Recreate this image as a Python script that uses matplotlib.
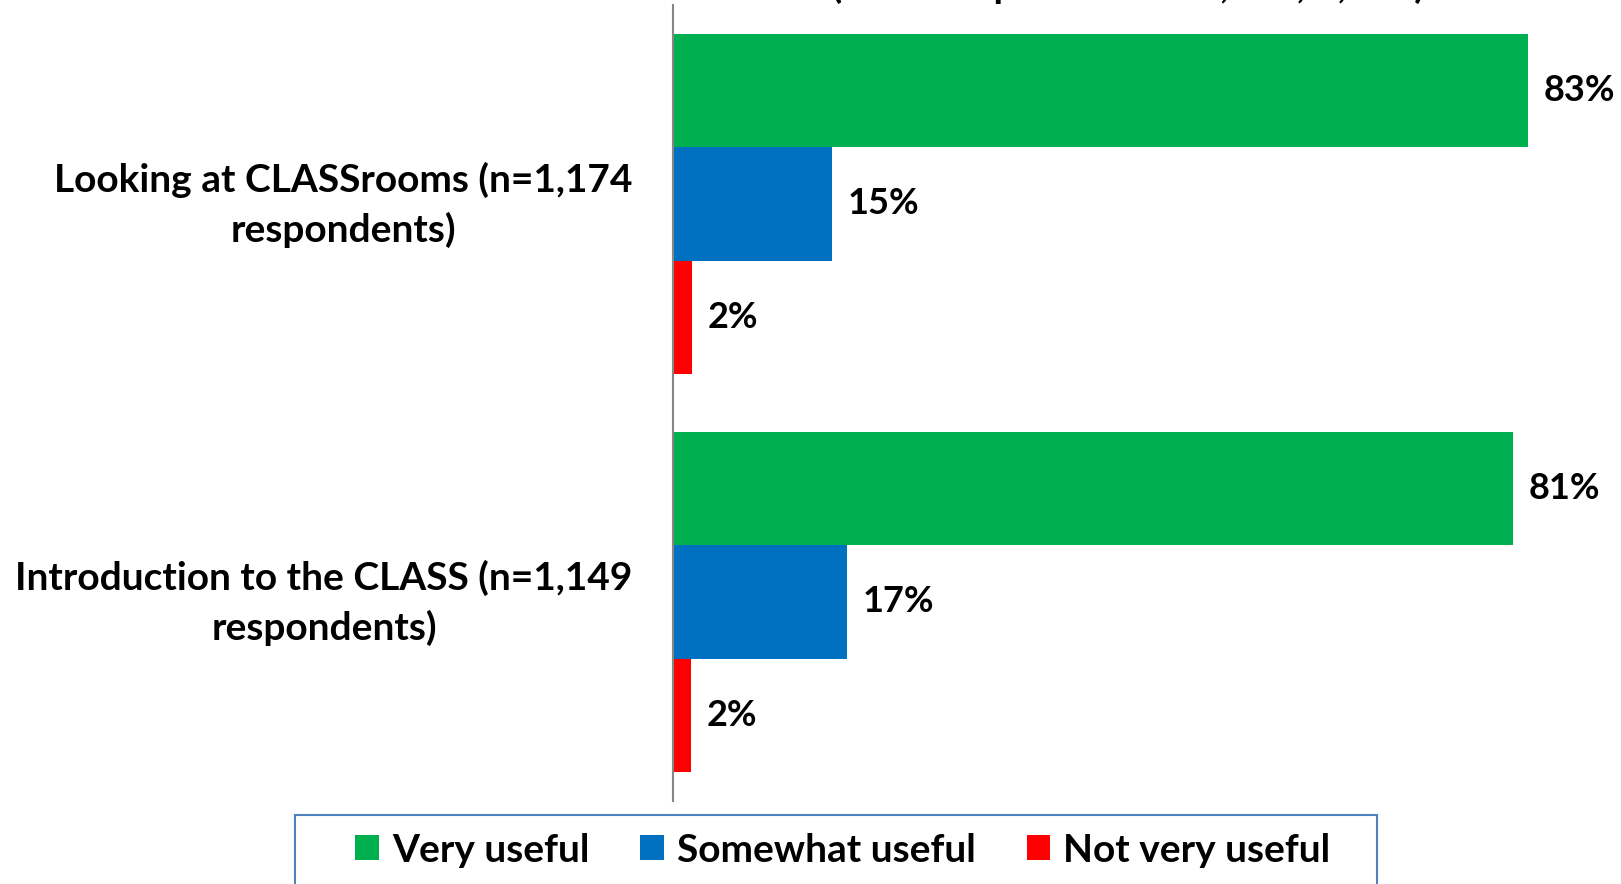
import matplotlib.pyplot as plt
from matplotlib.patches import Rectangle
from matplotlib.transforms import ScaledTranslation

plt.rcParams['font.family'] = ['Lato', 'DejaVu Sans']
plt.rcParams['font.weight'] = 'bold'

# data (bar lengths, labels show rounded %)
categories = ['Introduction to the CLASS (n=1,149\nrespondents)',
              'Looking at CLASSrooms (n=1,174\nrespondents)']
series_names = ['Very useful', 'Somewhat useful', 'Not very useful']
very_useful = [81.3, 82.7]
somewhat_useful = [16.8, 15.4]
not_very_useful = [1.7, 1.8]
colors = ['#00B050', '#0070C0', '#FF0000']

W, H = 1621, 884
fig = plt.figure(figsize=(W / 100, H / 100), dpi=100)
ax = fig.add_axes([673 / W, 1 - 801 / H, 930 / W, 796 / H])

bar_h = 0.284
y = range(len(categories))
values = [very_useful, somewhat_useful, not_very_useful]
offsets = [bar_h, 0, -bar_h]
fs = 28

for vals, off, col, name in zip(values, offsets, colors, series_names):
    pos = [p + off for p in y]
    bars = ax.barh(pos, vals, height=bar_h, color=col, label=name)
    for rect, v in zip(bars, vals):
        ax.annotate(f'{v:.0f}%', xy=(rect.get_width(), rect.get_y() + bar_h / 2),
                    xytext=(11.5, 0), textcoords='offset points',
                    ha='left', va='center', fontsize=26, fontweight='bold')

ax.set_xlim(0, 90)
ax.set_ylim(-0.5, 1.5)
ax.set_xticks([])
ax.set_yticks(list(y))
ax.set_yticklabels(categories, fontsize=fs, fontweight='bold',
                   multialignment='center', linespacing=1.45)
ax.tick_params(axis='y', length=0, pad=29)
shift = ScaledTranslation(0, 9 / 100, fig.dpi_scale_trans)
for lab in ax.get_yticklabels():
    lab.set_transform(lab.get_transform() + shift)
for s in ['top', 'right', 'bottom']:
    ax.spines[s].set_visible(False)
ax.spines['left'].set_color('#868686')
ax.spines['left'].set_linewidth(1.5)

# title is cut off at the top of the original image
fig.text(1425 / W, 1 + 2 / H, 'Usefulness of CLASS Modules (Total respondents = 1,174, 1,149)',
         ha='right', va='baseline', fontsize=fs, fontweight='bold')

# legend box (runs off the bottom edge)
fig.patches.append(Rectangle((295 / W, -0.05), (1377 - 295) / W, 0.05 + (884 - 815) / H,
                             transform=fig.transFigure, fill=False,
                             edgecolor='#4F81BD', linewidth=1.5, clip_on=False))
fig.legend(loc='center', bbox_to_anchor=(843 / W, 1 - 850 / H), ncol=3, frameon=False,
           fontsize=28, handlelength=0.6, handleheight=0.6, handletextpad=0.35,
           columnspacing=1.3)

fig.savefig('out.png', dpi=100)
